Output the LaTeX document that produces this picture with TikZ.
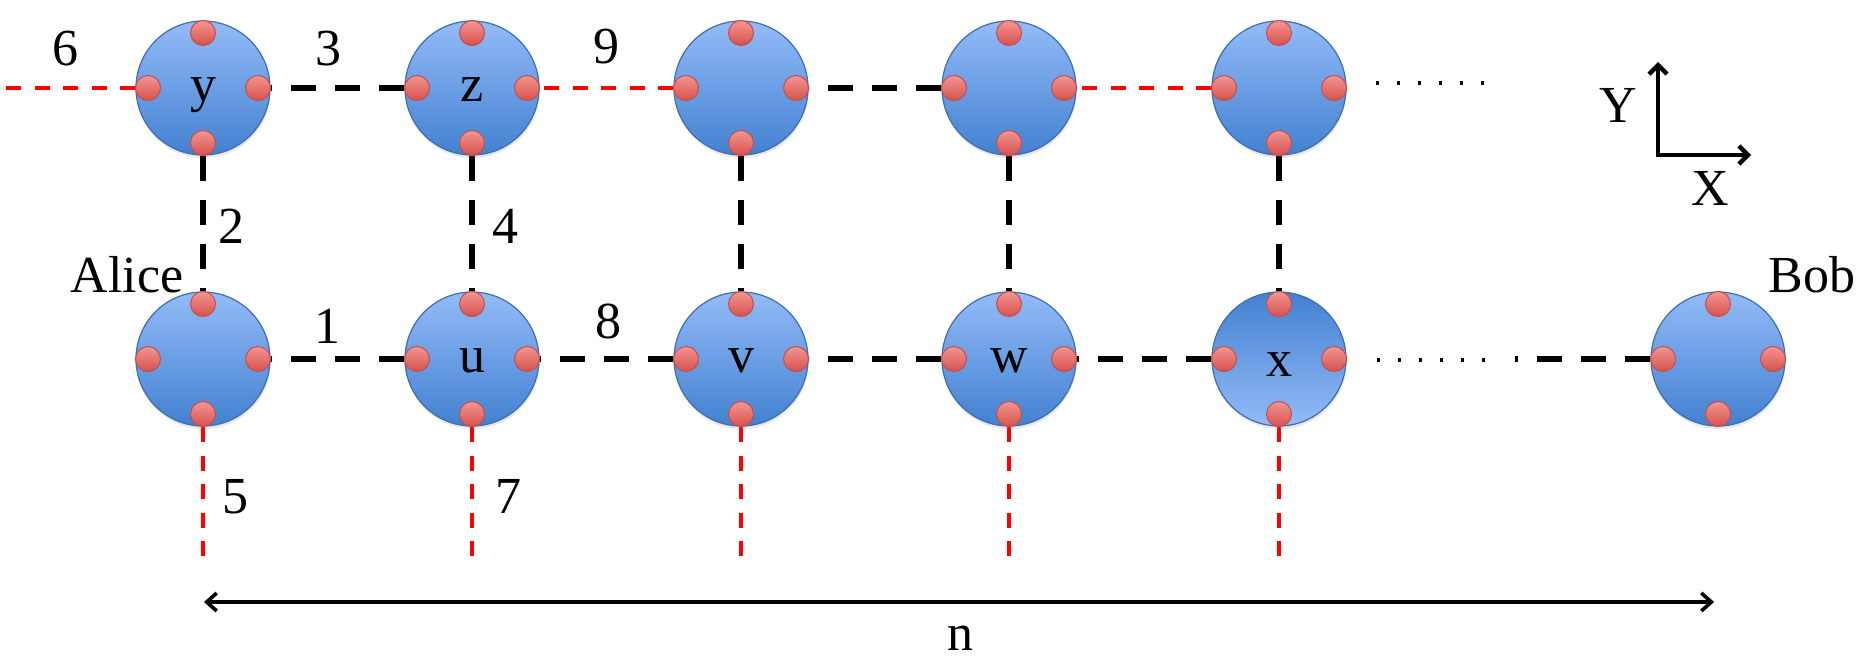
\documentclass[tikz,border=0pt]{standalone}
\usepackage{fontspec}
\setmainfont{Liberation Serif}
\usetikzlibrary{arrows.meta,shadows}
\definecolor{nodetop}{RGB}{147,187,247}
\definecolor{nodebot}{RGB}{66,129,208}
\definecolor{nodeedge}{RGB}{60,110,180}
\definecolor{dottop}{RGB}{244,150,146}
\definecolor{dotbot}{RGB}{214,80,76}
\definecolor{dotedge}{RGB}{192,80,77}
\pgfdeclarelayer{bg}
\pgfsetlayers{bg,main}
\tikzset{
  qbody/.style={circle, minimum size=67pt, inner sep=0pt, draw=nodeedge, line width=0.6pt,
    top color=nodetop, bottom color=nodebot,
    drop shadow={opacity=0.18, shadow xshift=0.3pt, shadow yshift=-1.5pt}},
  qbodyinv/.style={qbody, top color=nodebot, bottom color=nodetop},
  qdot/.style={circle, minimum size=12.5pt, inner sep=0pt, draw=dotedge, line width=0.5pt,
    top color=dottop, bottom color=dotbot},
  lbl/.style={anchor=base, inner sep=0pt, font=\fontsize{26}{30}\selectfont},
  blk/.style={black, line width=2.75pt, dash pattern=on 12.5pt off 9.5pt},
  rdl/.style={red, line width=1.75pt, dash pattern=on 7.5pt off 6.75pt},
  dotl/.style={black, line width=1.7pt, dash pattern=on 1.7pt off 8.8pt},
  axl/.style={black, line width=2.2pt, line join=miter},
}
\newcommand\QNode[4]{%
  \node[#4] (#1) at (#2,#3) {};
  \node[qdot] (#1n) at (#2,#3-55) {};
  \node[qdot] (#1s) at (#2,#3+55) {};
  \node[qdot] (#1w) at (#2-55,#3) {};
  \node[qdot] (#1e) at (#2+55,#3) {};
}
\begin{document}
\begin{tikzpicture}[x=0.5pt,y=-0.5pt]
\useasboundingbox (0,0) rectangle (1873,670);
% nodes
\QNode{ny}{203}{88}{qbody}
\QNode{nz}{472}{88}{qbody}
\QNode{nt}{741}{88}{qbody}
\QNode{nf}{1009}{88}{qbody}
\QNode{ng}{1279}{88}{qbody}
\QNode{na}{203}{359}{qbody}
\QNode{nu}{472}{359}{qbody}
\QNode{nv}{741}{359}{qbody}
\QNode{nw}{1009}{359}{qbody}
\QNode{nx}{1279}{359}{qbodyinv}
\QNode{nb}{1718}{359}{qbody}
% letters in nodes
\node[lbl] (ly) at (203,101) {y};
\node[lbl] (lz) at (472,101) {z};
\node[lbl] (lu) at (472,372) {u};
\node[lbl] (lv) at (741,372) {v};
\node[lbl] (lw) at (1009,372) {w};
\node[lbl] (lx) at (1279,376) {x};
% edge labels
\node[lbl] (l6) at (65,65) {6};
\node[lbl] (l3) at (328,65) {3};
\node[lbl] (l9) at (606,63) {9};
\node[lbl] (l2) at (231,243) {2};
\node[lbl] (l4) at (505,243) {4};
\node[lbl] (l1) at (327,343) {1};
\node[lbl] (l8) at (608,338) {8};
\node[lbl] (l5) at (235,513) {5};
\node[lbl] (l7) at (508,513) {7};
\node[lbl] (alice) at (127,292) {Alice};
\node[lbl] (bob) at (1812,292) {Bob};
\node[lbl] (tY) at (1618,122) {Y};
\node[lbl] (tX) at (1710,205) {X};
\node[lbl] (tn) at (960,650) {n};
% free ends
\coordinate (e6) at (0,88);
\coordinate (r1) at (203,562);
\coordinate (r2) at (472,562);
\coordinate (r3) at (741,562);
\coordinate (r4) at (1009,562);
\coordinate (r5) at (1279,558);
\coordinate (bend) at (1515,359);
\coordinate (d1a) at (1376,83);
\coordinate (d1b) at (1486,83);
\coordinate (d2a) at (1377,360);
\coordinate (d2b) at (1487,360);
\coordinate (ao) at (1658,155);
\coordinate (ay) at (1658,62);
\coordinate (ax) at (1751,155);
\coordinate (nl) at (204,602);
\coordinate (nr) at (1714,602);
\begin{pgfonlayer}{bg}
% top row
\draw[rdl] (nyw) -- (e6);
\draw[blk] (nzw) -- (nye);
\draw[rdl] (ntw) -- (nze);
\draw[blk] (nfw) -- (nte);
\draw[rdl] (ngw) -- (nfe);
\draw[dotl] (d1a) -- (d1b);
% verticals
\draw[blk] (nys) -- (nan);
\draw[blk] (nzs) -- (nun);
\draw[blk] (nts) -- (nvn);
\draw[blk] (nfs) -- (nwn);
\draw[blk] (ngs) -- (nxn);
% bottom row
\draw[blk] (nuw) -- (nae);
\draw[blk] (nvw) -- (nue);
\draw[blk] (nww) -- (nve);
\draw[blk] (nxw) -- (nwe);
\draw[dotl] (d2a) -- (d2b);
\draw[blk] (nbw) -- (bend);
% red downward
\draw[rdl] (nas) -- (r1);
\draw[rdl] (nus) -- (r2);
\draw[rdl] (nvs) -- (r3);
\draw[rdl] (nws) -- (r4);
\draw[rdl] (nxs) -- (r5);
\end{pgfonlayer}
% axes
\draw[axl, {Straight Barb[length=4.5pt,width=9pt]}-{Straight Barb[length=4.5pt,width=9pt]}] (ay) -- (ao) -- (ax);
% n arrow
\draw[black, line width=1.8pt, {Straight Barb[length=5pt,width=9pt]}-{Straight Barb[length=5pt,width=9pt]}] (nl) -- (nr);
\end{tikzpicture}
\end{document}
